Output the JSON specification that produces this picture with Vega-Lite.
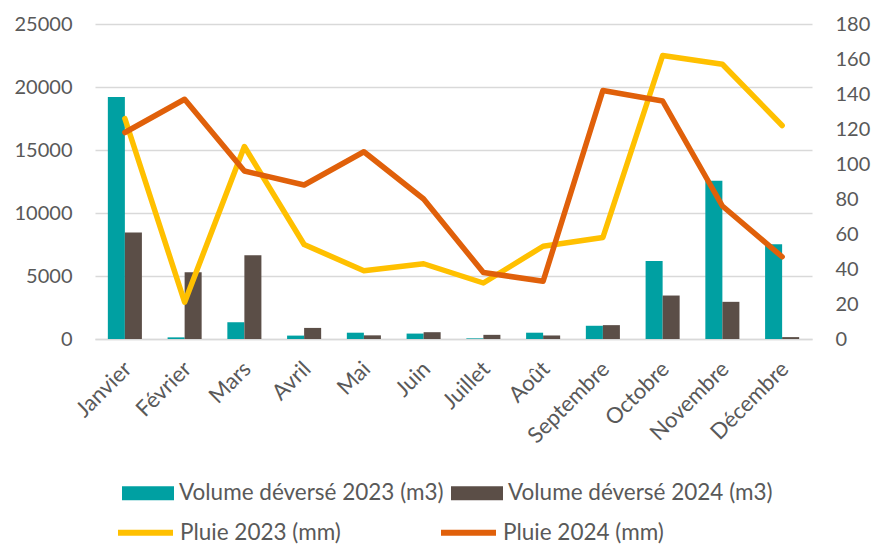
{
  "$schema": "https://vega.github.io/schema/vega-lite/v6.json",
  "width": 717,
  "height": 315,
  "autosize": {"type": "none"},
  "padding": {"left": 95, "top": 24, "right": 61, "bottom": 205},
  "background": "white",
  "config": {
    "view": {"stroke": null},
    "font": "Lato",
    "axis": {"labelFont": "Lato", "labelColor": "#595959", "ticks": false, "title": null},
    "legend": {"labelFont": "Lato", "labelColor": "#595959", "labelFontSize": 22.5, "labelLimit": 500}
  },
  "datasets": {
    "vol": [
      {"mois": "Janvier", "serie": "Volume déversé 2023 (m3)", "valeur": 19200},
      {"mois": "Janvier", "serie": "Volume déversé 2024 (m3)", "valeur": 8450},
      {"mois": "Février", "serie": "Volume déversé 2023 (m3)", "valeur": 130},
      {"mois": "Février", "serie": "Volume déversé 2024 (m3)", "valeur": 5300},
      {"mois": "Mars", "serie": "Volume déversé 2023 (m3)", "valeur": 1330},
      {"mois": "Mars", "serie": "Volume déversé 2024 (m3)", "valeur": 6650},
      {"mois": "Avril", "serie": "Volume déversé 2023 (m3)", "valeur": 270},
      {"mois": "Avril", "serie": "Volume déversé 2024 (m3)", "valeur": 880},
      {"mois": "Mai", "serie": "Volume déversé 2023 (m3)", "valeur": 500},
      {"mois": "Mai", "serie": "Volume déversé 2024 (m3)", "valeur": 290},
      {"mois": "Juin", "serie": "Volume déversé 2023 (m3)", "valeur": 430},
      {"mois": "Juin", "serie": "Volume déversé 2024 (m3)", "valeur": 540},
      {"mois": "Juillet", "serie": "Volume déversé 2023 (m3)", "valeur": 50},
      {"mois": "Juillet", "serie": "Volume déversé 2024 (m3)", "valeur": 330},
      {"mois": "Août", "serie": "Volume déversé 2023 (m3)", "valeur": 500},
      {"mois": "Août", "serie": "Volume déversé 2024 (m3)", "valeur": 280},
      {"mois": "Septembre", "serie": "Volume déversé 2023 (m3)", "valeur": 1050},
      {"mois": "Septembre", "serie": "Volume déversé 2024 (m3)", "valeur": 1100},
      {"mois": "Octobre", "serie": "Volume déversé 2023 (m3)", "valeur": 6200},
      {"mois": "Octobre", "serie": "Volume déversé 2024 (m3)", "valeur": 3450},
      {"mois": "Novembre", "serie": "Volume déversé 2023 (m3)", "valeur": 12550},
      {"mois": "Novembre", "serie": "Volume déversé 2024 (m3)", "valeur": 2950},
      {"mois": "Décembre", "serie": "Volume déversé 2023 (m3)", "valeur": 7520},
      {"mois": "Décembre", "serie": "Volume déversé 2024 (m3)", "valeur": 150}
    ],
    "pluie": [
      {"mois": "Janvier", "serie": "Pluie 2023 (mm)", "valeur": 126},
      {"mois": "Février", "serie": "Pluie 2023 (mm)", "valeur": 21},
      {"mois": "Mars", "serie": "Pluie 2023 (mm)", "valeur": 110},
      {"mois": "Avril", "serie": "Pluie 2023 (mm)", "valeur": 54},
      {"mois": "Mai", "serie": "Pluie 2023 (mm)", "valeur": 39},
      {"mois": "Juin", "serie": "Pluie 2023 (mm)", "valeur": 43},
      {"mois": "Juillet", "serie": "Pluie 2023 (mm)", "valeur": 32},
      {"mois": "Août", "serie": "Pluie 2023 (mm)", "valeur": 53},
      {"mois": "Septembre", "serie": "Pluie 2023 (mm)", "valeur": 58},
      {"mois": "Octobre", "serie": "Pluie 2023 (mm)", "valeur": 162},
      {"mois": "Novembre", "serie": "Pluie 2023 (mm)", "valeur": 157},
      {"mois": "Décembre", "serie": "Pluie 2023 (mm)", "valeur": 122},
      {"mois": "Janvier", "serie": "Pluie 2024 (mm)", "valeur": 118},
      {"mois": "Février", "serie": "Pluie 2024 (mm)", "valeur": 137},
      {"mois": "Mars", "serie": "Pluie 2024 (mm)", "valeur": 96},
      {"mois": "Avril", "serie": "Pluie 2024 (mm)", "valeur": 88},
      {"mois": "Mai", "serie": "Pluie 2024 (mm)", "valeur": 107},
      {"mois": "Juin", "serie": "Pluie 2024 (mm)", "valeur": 80},
      {"mois": "Juillet", "serie": "Pluie 2024 (mm)", "valeur": 38},
      {"mois": "Août", "serie": "Pluie 2024 (mm)", "valeur": 33},
      {"mois": "Septembre", "serie": "Pluie 2024 (mm)", "valeur": 142},
      {"mois": "Octobre", "serie": "Pluie 2024 (mm)", "valeur": 136},
      {"mois": "Novembre", "serie": "Pluie 2024 (mm)", "valeur": 76},
      {"mois": "Décembre", "serie": "Pluie 2024 (mm)", "valeur": 47}
    ]
  },
  "layer": [
    {
      "data": {"name": "vol"},
      "mark": {"type": "bar"},
      "encoding": {
        "x": {
          "field": "mois", "type": "nominal",
          "sort": ["Janvier", "Février", "Mars", "Avril", "Mai", "Juin", "Juillet", "Août", "Septembre", "Octobre", "Novembre", "Décembre"],
          "scale": {"paddingInner": 0.43, "paddingOuter": 0.215},
          "axis": {"labelAngle": -45, "labelAlign": "right", "labelBaseline": "middle", "labelFontSize": 22, "labelPadding": 26, "labelOffset": 3, "domain": true, "domainColor": "#D9D9D9", "domainWidth": 1.5, "grid": false}
        },
        "xOffset": {"field": "serie", "type": "nominal", "scale": {"paddingInner": 0, "paddingOuter": 0}},
        "y": {
          "field": "valeur", "type": "quantitative",
          "scale": {"domain": [0, 25000], "nice": false},
          "axis": {"orient": "left", "values": [0, 5000, 10000, 15000, 20000, 25000], "format": "d", "labelFontSize": 20, "labelPadding": 23, "domain": false, "grid": true, "gridColor": "#D9D9D9", "gridWidth": 1.5}
        },
        "color": {
          "field": "serie", "type": "nominal",
          "scale": {"domain": ["Volume déversé 2023 (m3)", "Volume déversé 2024 (m3)"], "range": ["#00A0A2", "#5B4E47"]},
          "legend": {"title": null, "orient": "none", "legendX": 27, "legendY": 443, "direction": "horizontal", "columns": 2, "columnPadding": 7, "symbolType": "M-1,-0.27H1V0.27H-1Z", "symbolSize": 2704, "symbolStrokeWidth": 0, "labelOffset": 5}
        }
      }
    },
    {
      "data": {"name": "pluie"},
      "mark": {"type": "line", "strokeWidth": 5.5, "strokeJoin": "round", "strokeCap": "round"},
      "encoding": {
        "x": {
          "field": "mois", "type": "nominal",
          "sort": ["Janvier", "Février", "Mars", "Avril", "Mai", "Juin", "Juillet", "Août", "Septembre", "Octobre", "Novembre", "Décembre"]
        },
        "y": {
          "field": "valeur", "type": "quantitative",
          "scale": {"domain": [0, 180], "nice": false},
          "axis": {"orient": "right", "values": [0, 20, 40, 60, 80, 100, 120, 140, 160, 180], "labelFontSize": 20, "labelPadding": 23, "domain": false, "grid": false}
        },
        "color": {
          "field": "serie", "type": "nominal",
          "scale": {"domain": ["Pluie 2023 (mm)", "Pluie 2024 (mm)"], "range": ["#FFC000", "#E0600A"]},
          "legend": {"title": null, "orient": "none", "legendX": 20, "legendY": 478, "direction": "horizontal", "columns": 2, "columnPadding": 88, "symbolType": "stroke", "symbolSize": 3025, "symbolStrokeWidth": 6, "labelOffset": 4}
        }
      }
    }
  ],
  "resolve": {"scale": {"y": "independent", "color": "independent"}}
}
